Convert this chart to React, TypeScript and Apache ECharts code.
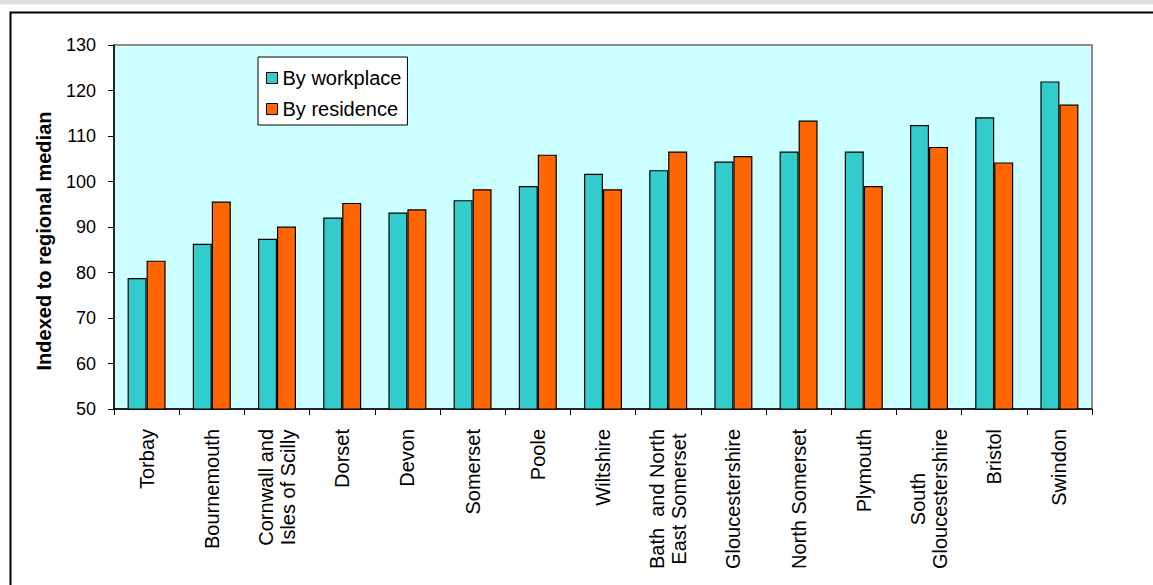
import React, { useEffect, useRef } from "react";
import * as echarts from "echarts";

// Local authority areas, ordered by workplace index
const categories: string[] = [
  "Torbay",
  "Bournemouth",
  "Cornwall and\nIsles of Scilly",
  "Dorset",
  "Devon",
  "Somerset",
  "Poole",
  "Wiltshire",
  "Bath  and North\nEast Somerset",
  "Gloucestershire",
  "North Somerset",
  "Plymouth",
  "South\nGloucestershire",
  "Bristol",
  "Swindon",
];

const byWorkplace: number[] = [
  78.8, 86.3, 87.4, 92.1, 93.2, 95.9, 99.0, 101.7, 102.5, 104.4, 106.6, 106.6,
  112.4, 114.1, 122.0,
];

const byResidence: number[] = [
  82.6, 95.6, 90.1, 95.3, 93.9, 98.3, 105.9, 98.3, 106.6, 105.6, 113.4, 99.0,
  107.6, 104.2, 116.9,
];

const seriesNames: string[] = ["By workplace", "By residence"];
const yAxisTitle = "Indexed to regional median";

const FONT = "'Liberation Sans', Arial, sans-serif";

export default function App() {
  const ref = useRef<HTMLDivElement>(null);

  useEffect(() => {
    if (!ref.current) return;
    const chart = echarts.init(ref.current, undefined, { renderer: "svg" });

    const barStyle = (color: string) => ({
      color,
      borderColor: "#000",
      borderWidth: 1.2,
    });

    chart.setOption({
      animation: false,
      backgroundColor: "#ffffff",
      textStyle: { fontFamily: FONT, color: "#000" },
      grid: {
        left: 114,
        top: 45,
        right: 61,
        bottom: 176,
        show: true,
        backgroundColor: "#CCFFFF",
        borderColor: "#8c8c8c",
        borderWidth: 2,
      },
      legend: {
        orient: "vertical",
        left: 258,
        top: 57,
        data: seriesNames,
        icon: "rect",
        itemWidth: 11,
        itemHeight: 11,
        itemGap: 11,
        padding: [11, 6, 6, 8],
        backgroundColor: "#ffffff",
        borderColor: "#000",
        borderWidth: 1,
        borderRadius: 0,
        itemStyle: { borderColor: "#000", borderWidth: 1 },
        textStyle: { fontFamily: FONT, fontSize: 20, color: "#000" },
      },
      xAxis: {
        type: "category",
        data: categories,
        boundaryGap: true,
        axisLine: { lineStyle: { color: "#000", width: 1.5 } },
        axisTick: { show: true, length: 6, lineStyle: { color: "#000" } },
        axisLabel: {
          interval: 0,
          rotate: 90,
          margin: 20,
          color: "#000",
          fontFamily: FONT,
          fontSize: 20,
          formatter: (v: string) =>
            v
              .split("\n")
              .map((line) => `{c|${line}}`)
              .join("\n"),
          rich: {
            c: {
              align: "center",
              fontFamily: FONT,
              fontSize: 20,
              lineHeight: 22,
              color: "#000",
            },
          },
        },
        splitLine: { show: false },
      },
      yAxis: {
        type: "value",
        min: 50,
        max: 130,
        interval: 10,
        axisLine: { show: true, lineStyle: { color: "#000", width: 1.5 } },
        axisTick: { show: true, length: 6, lineStyle: { color: "#000" } },
        axisLabel: {
          margin: 18,
          color: "#000",
          fontFamily: FONT,
          fontSize: 18,
        },
        splitLine: { show: false },
      },
      series: [
        {
          name: seriesNames[0],
          type: "bar",
          data: byWorkplace,
          barWidth: 19,
          barGap: "0%",
          itemStyle: barStyle("#33CCCC"),
        },
        {
          name: seriesNames[1],
          type: "bar",
          data: byResidence,
          barWidth: 19,
          barGap: "0%",
          itemStyle: barStyle("#FF6600"),
        },
      ],
      graphic: [
        {
          type: "rect",
          shape: { x: 0, y: 0, width: 1153, height: 4.5 },
          style: { fill: "#dedede" },
          silent: true,
        },
        {
          type: "rect",
          shape: { x: 10.5, y: 12.5, width: 1300, height: 700 },
          style: { fill: "none", stroke: "#000", lineWidth: 2 },
          silent: true,
        },
        {
          type: "text",
          x: 44,
          y: 241,
          rotation: Math.PI / 2,
          style: {
            text: yAxisTitle,
            fill: "#000",
            font: `bold 20px ${FONT}`,
            align: "center",
            verticalAlign: "middle",
          },
          silent: true,
        },
      ],
    });

    return () => chart.dispose();
  }, []);

  return (
    <div
      ref={ref}
      style={{ position: "absolute", left: 0, top: 0, width: 1153, height: 585 }}
    />
  );
}
